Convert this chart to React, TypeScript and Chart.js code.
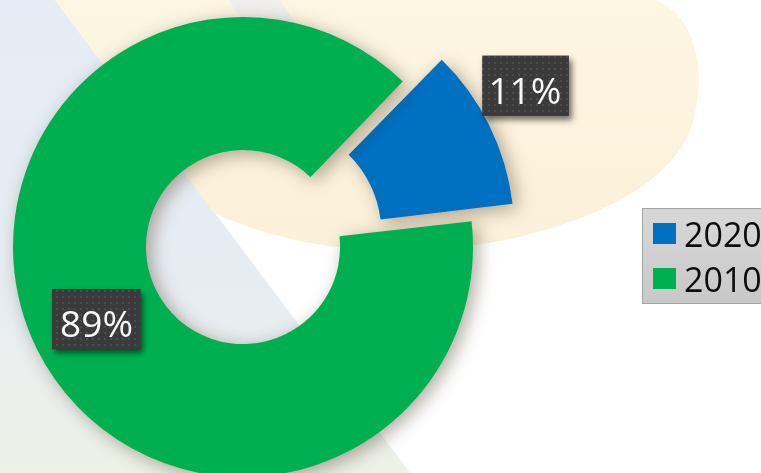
import React, { useEffect, useRef } from 'react';
import { Chart, registerables } from 'chart.js';

Chart.register(...registerables);

// ---- data ----
const categories = ['2020', '2010'];
const shares = [11, 89];
const sliceColors = ['#0070C0', '#00B050'];
const sliceOffsets = [131, 0];
const labelPlacement = ['outside', 'center'];

const W = 761;
const H = 473;
const FONT = '"Open Sans", "DejaVu Sans", sans-serif';

function drawBackground(ctx: CanvasRenderingContext2D) {
  ctx.save();
  ctx.fillStyle = '#ffffff';
  ctx.fillRect(0, 0, W, H);

  // left bluish band
  const g = ctx.createLinearGradient(0, 0, 0, H);
  g.addColorStop(0, '#e6ecf5');
  g.addColorStop(0.6, '#e7ecf3');
  g.addColorStop(1, '#edf1e6');
  ctx.fillStyle = g;
  ctx.beginPath();
  ctx.moveTo(0, 0);
  ctx.lineTo(55, 0);
  ctx.lineTo(410, H);
  ctx.lineTo(0, H);
  ctx.closePath();
  ctx.fill();

  // beige swoosh
  const b = ctx.createLinearGradient(0, 0, 0, 260);
  b.addColorStop(0, '#fdf6e2');
  b.addColorStop(1, '#fbf0d9');
  ctx.fillStyle = b;
  ctx.beginPath();
  ctx.moveTo(55, 0);
  ctx.lineTo(655, 0);
  ctx.bezierCurveTo(695, 15, 708, 70, 692, 125);
  ctx.bezierCurveTo(672, 190, 570, 232, 470, 246);
  ctx.bezierCurveTo(390, 256, 300, 252, 214, 213);
  ctx.closePath();
  ctx.fill();

  // light strip at top
  ctx.fillStyle = 'rgba(235,238,244,0.7)';
  ctx.beginPath();
  ctx.moveTo(228, 0);
  ctx.lineTo(280, 0);
  ctx.lineTo(300, 30);
  ctx.lineTo(250, 30);
  ctx.closePath();
  ctx.fill();
  ctx.restore();
}

let dotPattern: CanvasPattern | null = null;
function getPattern(ctx: CanvasRenderingContext2D) {
  if (dotPattern) return dotPattern;
  const c = document.createElement('canvas');
  c.width = 6;
  c.height = 6;
  const p = c.getContext('2d')!;
  p.fillStyle = '#3a3a3a';
  p.fillRect(0, 0, 6, 6);
  p.fillStyle = '#4d4d4d';
  p.fillRect(2, 2, 2, 2);
  dotPattern = ctx.createPattern(c, 'repeat');
  return dotPattern;
}

function drawLabel(ctx: CanvasRenderingContext2D, text: string, boxX: number, boxY: number, boxW: number, boxH: number, left: number) {
  ctx.save();
  ctx.shadowColor = 'rgba(0,0,0,0.55)';
  ctx.shadowBlur = 6;
  ctx.shadowOffsetX = 3;
  ctx.shadowOffsetY = 4;
  ctx.fillStyle = '#3a3a3a';
  ctx.fillRect(boxX, boxY, boxW, boxH);
  ctx.restore();
  ctx.save();
  ctx.fillStyle = getPattern(ctx) || '#3a3a3a';
  ctx.fillRect(boxX, boxY, boxW, boxH);
  ctx.fillStyle = '#f7f7f7';
  ctx.font = `37px ${FONT}`;
  ctx.textAlign = 'left';
  ctx.textBaseline = 'alphabetic';
  ctx.fillText(text, boxX + 9 + left, boxY + 48);
  ctx.restore();
}

const bgPlugin = {
  id: 'bgPlugin',
  beforeDraw(chart: any) {
    drawBackground(chart.ctx);
  },
};

const arcPlugin = {
  id: 'arcPlugin',
  beforeDatasetsDraw(chart: any) {
    const ctx = chart.ctx;
    ctx.save();
    ctx.shadowColor = 'rgba(60,45,20,0.4)';
    ctx.shadowBlur = 18;
    ctx.shadowOffsetX = 5;
    ctx.shadowOffsetY = 4;
  },
  afterDatasetsDraw(chart: any) {
    const ctx = chart.ctx;
    ctx.restore();
    const meta = chart.getDatasetMeta(0);
    const values: number[] = chart.data.datasets[0].data;
    const total = values.reduce((a, v) => a + v, 0);
    meta.data.forEach((arc: any, i: number) => {
      const text = `${Math.round((values[i] / total) * 100)}%`;
      const mid = (arc.startAngle + arc.endAngle) / 2;
      ctx.save();
      ctx.font = `37px ${FONT}`;
      const m = ctx.measureText(text);
      ctx.restore();
      const glyphW = m.actualBoundingBoxLeft + m.actualBoundingBoxRight;
      const boxW = glyphW + 18;
      const boxH = 60;
      let boxX: number;
      let boxY: number;
      if (labelPlacement[i] === 'outside') {
        const offset = (arc.options.offset || 0) / 4;
        const circ = arc.endAngle - arc.startAngle;
        const fix = 1 - Math.sin(Math.min(Math.PI, circ));
        const cx = arc.x + Math.cos(mid) * offset;
        const cy = arc.y + Math.sin(mid) * offset;
        const r = arc.outerRadius + offset * fix;
        const ax = cx + Math.cos(mid) * r;
        const ay = cy + Math.sin(mid) * r;
        boxX = ax - 7;
        boxY = ay - 10 - boxH;
      } else {
        const r = (arc.innerRadius + arc.outerRadius) / 2;
        const cx = arc.x + Math.cos(mid) * r;
        const cy = arc.y + Math.sin(mid) * r;
        boxX = cx - boxW / 2;
        boxY = cy - boxH / 2;
      }
      drawLabel(ctx, text, boxX, boxY, boxW, boxH, m.actualBoundingBoxLeft);
    });
  },
};

const legendPlugin = {
  id: 'legendPlugin',
  afterDraw(chart: any) {
    const ctx = chart.ctx;
    const labels: string[] = chart.data.labels;
    const colors: string[] = chart.data.datasets[0].backgroundColor;
    ctx.save();
    const lx = 642.5;
    const ly = 208.5;
    const lw = 140;
    const lh = 95;
    const g = ctx.createLinearGradient(0, ly, 0, ly + lh);
    g.addColorStop(0, '#d8d8d8');
    g.addColorStop(1, '#c8c8c8');
    ctx.fillStyle = g;
    ctx.fillRect(lx, ly, lw, lh);
    ctx.strokeStyle = '#a4a4a4';
    ctx.lineWidth = 1;
    ctx.strokeRect(lx, ly, lw, lh);
    ctx.font = `34px ${FONT}`;
    ctx.textBaseline = 'alphabetic';
    ctx.textAlign = 'left';
    labels.forEach((lab, i) => {
      const top = 223 + i * 45;
      ctx.fillStyle = colors[i];
      ctx.fillRect(653, top, 23, 21);
      ctx.fillStyle = '#0d0d0d';
      ctx.fillText(lab, 684, top + 24);
    });
    ctx.restore();
  },
};

export default function App() {
  const ref = useRef<HTMLCanvasElement | null>(null);
  useEffect(() => {
    if (!ref.current) return;
    const chart = new Chart(ref.current, {
      type: 'doughnut',
      data: {
        labels: categories,
        datasets: [
          {
            data: shares,
            backgroundColor: sliceColors,
            borderWidth: 0,
            offset: sliceOffsets,
            hoverOffset: 0,
          } as any,
        ],
      },
      options: {
        responsive: false,
        animation: false,
        devicePixelRatio: 1,
        rotation: 44,
        cutout: '42.2%',
        radius: 230,
        layout: { padding: { left: 0, right: 275, top: 21, bottom: 0 } },
        events: [],
        plugins: {
          legend: { display: false },
          tooltip: { enabled: false },
        },
      } as any,
      plugins: [bgPlugin, arcPlugin, legendPlugin],
    });
    return () => chart.destroy();
  }, []);
  return (
    <div style={{ position: 'fixed', left: 0, top: 0, width: W, height: H, overflow: 'hidden', background: '#fff' }}>
      <canvas ref={ref} width={W} height={H} style={{ display: 'block', width: W, height: H }} />
    </div>
  );
}
